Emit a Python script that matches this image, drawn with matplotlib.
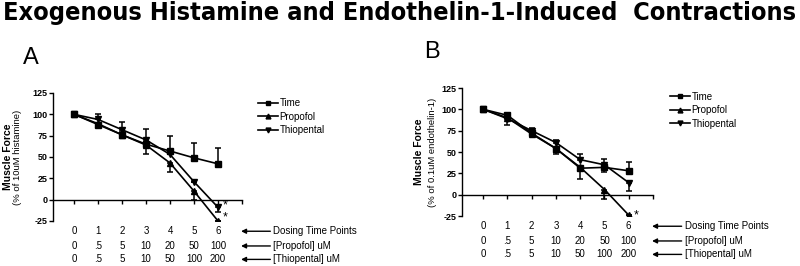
import matplotlib
matplotlib.use("Agg")
import matplotlib.pyplot as plt
from matplotlib import font_manager
from matplotlib.font_manager import FontProperties
from matplotlib.lines import Line2D

plt.rcParams["font.family"] = ["Liberation Sans", "DejaVu Sans"]

# look for a narrow bold face for the title, fall back to Liberation Sans
narrow = [f for f in font_manager.fontManager.ttflist
          if ("Narrow" in f.name or "Condensed" in f.name or "condensed" in str(f.stretch))]
narrow_bold = [f for f in narrow if f.weight in ("bold", 700, "heavy")]
if narrow_bold or narrow:
    title_fp = FontProperties(fname=(narrow_bold or narrow)[0].fname, size=20)
else:
    title_fp = FontProperties(family="Liberation Sans", weight="bold", size=20)

doses = [0, 1, 2, 3, 4, 5, 6]
dose_time = ["0", "1", "2", "3", "4", "5", "6"]
dose_propofol = ["0", ".5", "5", "10", "20", "50", "100"]
dose_thiopental = ["0", ".5", "5", "10", "50", "100", "200"]
row_labels = ["Dosing Time Points", "[Propofol] uM", "[Thiopental] uM"]

# panel A: histamine
a_time = [100, 88, 76, 65, 57, 49, 42]
a_time_lo = [0, 0, 0, 0, 0, 0, 0]
a_time_hi = [0, 0, 3, 3, 18, 17, 19]
a_prop = [100, 89, 76, 64, 43, 10, -25]
a_prop_lo = [0, 0, 0, 10, 10, 10, 0]
a_prop_hi = [0, 0, 0, 0, 0, 0, 0]
a_thio = [100, 94, 82, 70, 53, 21, -9]
a_thio_lo = [0, 0, 0, 0, 0, 0, 6]
a_thio_hi = [0, 6, 9, 13, 0, 0, 0]

# panel B: endothelin-1
b_time = [100, 93, 72, 54, 31, 32, 28]
b_time_lo = [0, 0, 0, 0, 13, 6, 0]
b_time_hi = [0, 3, 0, 0, 0, 10, 10]
b_prop = [100, 90, 71, 54, 32, 6, -24]
b_prop_lo = [0, 0, 0, 6, 0, 11, 0]
b_prop_hi = [0, 0, 0, 0, 0, 0, 0]
b_thio = [100, 89, 75, 61, 41, 35, 14]
b_thio_lo = [0, 7, 3, 0, 0, 0, 10]
b_thio_hi = [0, 0, 3, 3, 7, 0, 0]

fig = plt.figure(figsize=(8, 2.66), dpi=100)
W, H = 800, 266

title = fig.text(0.5, 0.995, "Exogenous Histamine and Endothelin-1-Induced  Contractions",
                 ha="center", va="top", fontproperties=title_fp)
# shrink the title until it fits the figure width
fig.canvas.draw()
tw = title.get_window_extent().width
if tw > 794:
    title.set_fontsize(title_fp.get_size() * 794 / tw)


def panel(rect, letter, letter_xy, ylab2, ylab_x, series, stars, legend_xy):
    l, t, r, b = rect
    ax = fig.add_axes([l / W, 1 - b / H, (r - l) / W, (b - t) / H])
    styles = [("Time", "s"), ("Propofol", "^"), ("Thiopental", "v")]
    handles = []
    for (name, m), (y, lo, hi) in zip(styles, series):
        ax.errorbar(doses, y, yerr=[lo, hi], color="black", marker=m, ms=4,
                    lw=1.2, elinewidth=1.1, capsize=2.5, capthick=1.1)
        handles.append(Line2D([], [], color="black", marker=m, ms=3.5, lw=1.2, label=name))
    ax.set_xlim(-0.875, 7)
    ax.set_ylim(-25, 125)
    ax.set_yticks([-25, 0, 25, 50, 75, 100, 125])
    ax.set_yticklabels(["-25", "0", "25", "50", "75", "100", "125"])
    ax.set_xticks(range(8))
    ax.set_xticklabels([])
    for s in ["top", "right"]:
        ax.spines[s].set_visible(False)
    ax.spines["bottom"].set_position(("data", 0))
    ax.spines["bottom"].set_bounds(-0.875, 7)
    ax.spines["left"].set_linewidth(1.0)
    ax.spines["bottom"].set_linewidth(1.0)
    ax.tick_params(axis="y", length=3, width=1, labelsize=6.5, pad=1)
    ax.tick_params(axis="x", length=3, width=1, direction="out")
    for lab in ax.get_yticklabels():
        lab.set_fontweight("bold")

    ax.text(ylab_x[0], 0.5, "Muscle Force", transform=ax.transAxes, rotation=90,
            ha="center", va="center", fontsize=7.5, fontweight="bold")
    ax.text(ylab_x[1], 0.5, ylab2, transform=ax.transAxes, rotation=90,
            ha="center", va="center", fontsize=6.8)

    for sx, sy in stars:
        ax.text(sx, sy, "*", ha="left", va="center", fontsize=9)

    ax.legend(handles=handles, loc="upper left", bbox_to_anchor=legend_xy, frameon=False,
              fontsize=7, handlelength=2.0, handletextpad=0.2, labelspacing=0.35,
              borderaxespad=0)

    fig.text(letter_xy[0] / W, 1 - letter_xy[1] / H, letter, fontsize=17,
             ha="center", va="center")

    rows = [dose_time, dose_propofol, dose_thiopental]
    ys = [-0.08, -0.195, -0.30]
    for labels, yy, rl in zip(rows, ys, row_labels):
        for xv, lab in zip(doses, labels):
            ax.annotate(lab, xy=(xv, yy), xycoords=("data", "axes fraction"),
                        ha="center", va="center", fontsize=7, annotation_clip=False)
        ax.annotate("", xy=(0.995, yy), xytext=(1.15, yy), xycoords="axes fraction",
                    arrowprops=dict(arrowstyle="-|>", color="black", lw=1.0,
                                    mutation_scale=7, shrinkA=0, shrinkB=0),
                    annotation_clip=False)
        ax.annotate(rl, xy=(1.165, yy), xycoords="axes fraction", ha="left",
                    va="center", fontsize=7, annotation_clip=False)
    return ax


panel((53, 93, 242, 221), "A", (31, 58), "(% of 10uM histamine)", (-0.238, -0.19),
      [(a_time, a_time_lo, a_time_hi), (a_prop, a_prop_lo, a_prop_hi),
       (a_thio, a_thio_lo, a_thio_hi)],
      [(6.2, -7), (6.2, -21)], (1.065, 0.99))

panel((462, 88, 653, 216), "B", (432, 52), "(% of 0.1uM endothelin-1)", (-0.225, -0.152),
      [(b_time, b_time_lo, b_time_hi), (b_prop, b_prop_lo, b_prop_hi),
       (b_thio, b_thio_lo, b_thio_hi)],
      [(6.2, -24)], (1.07, 1.0))

fig.savefig("out.png", dpi=100)
